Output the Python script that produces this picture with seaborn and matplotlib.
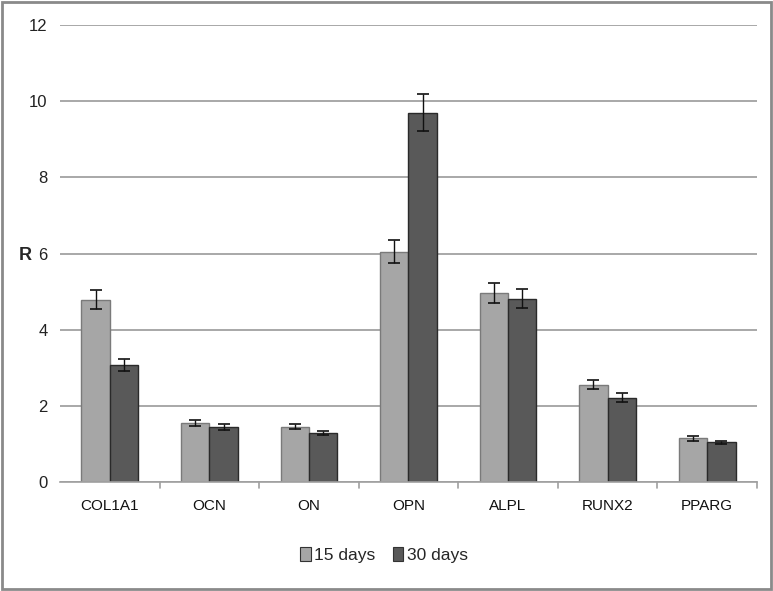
import matplotlib
matplotlib.use("Agg")
import matplotlib.pyplot as plt
import seaborn as sns
import pandas as pd
import numpy as np
from matplotlib.patches import Rectangle

genes = ["COL1A1", "OCN", "ON", "OPN", "ALPL", "RUNX2", "PPARG"]
groups = ["15 days", "30 days"]
r_15 = [4.78, 1.54, 1.45, 6.05, 4.96, 2.56, 1.15]
r_30 = [3.07, 1.45, 1.28, 9.70, 4.81, 2.21, 1.04]
err_15 = [0.25, 0.08, 0.07, 0.30, 0.26, 0.13, 0.06]
err_30 = [0.15, 0.08, 0.05, 0.48, 0.25, 0.12, 0.05]
y_ticks = [0, 2, 4, 6, 8, 10, 12]

colors = {"15 days": "#a6a6a6", "30 days": "#595959"}
edges = {"15 days": "#7a7a7a", "30 days": "#2a2a2a"}

df = pd.DataFrame({
    "gene": genes * 2,
    "group": [groups[0]] * len(genes) + [groups[1]] * len(genes),
    "R": r_15 + r_30,
    "err": err_15 + err_30,
})

sns.set_style("white")
plt.rcParams["font.family"] = ["Liberation Sans", "DejaVu Sans"]

fig = plt.figure(figsize=(7.73, 5.91), dpi=100)
ax = fig.add_axes([0.0776, 0.1844, 0.9017, 0.7733])

sns.barplot(data=df, x="gene", y="R", hue="group", order=genes, hue_order=groups,
            palette=colors, width=0.57, gap=0, errorbar=None, ax=ax,
            linewidth=1, saturation=1)

# edge colours and error bars per group
for cont, g in zip(ax.containers, groups):
    sub = df[df["group"] == g].set_index("gene").loc[genes]
    xs = []
    for bar in cont:
        bar.set_edgecolor(edges[g])
        xs.append(bar.get_x() + bar.get_width() / 2)
    ax.errorbar(xs, sub["R"].values, yerr=sub["err"].values, fmt="none",
                ecolor="#111111", elinewidth=1, capsize=4.5, capthick=1.2, zorder=5)

ax.set_ylim(0, 12)
ax.set_xlim(-0.5, len(genes) - 0.5)
ax.set_yticks(y_ticks)
ax.set_yticklabels([str(t) for t in y_ticks], fontsize=12, color="#222222")
ax.yaxis.grid(True, color="#9a9a9a", linewidth=1.2)
ax.set_axisbelow(True)
ax.tick_params(axis="y", length=0, pad=9)
ax.tick_params(axis="x", length=0, pad=12, labelsize=11, labelcolor="#111111")

# category separator ticks on the x axis
for b in np.arange(0.5, len(genes), 1.0):
    ax.plot([b, b], [0, -0.17], color="#a0a0a0", lw=1.2, clip_on=False)

for s in ["top", "right", "left"]:
    ax.spines[s].set_visible(False)
ax.spines["bottom"].set_color("#a0a0a0")
ax.spines["bottom"].set_linewidth(1.2)

ax.set_xlabel("")
ax.set_ylabel("")
fig.text(25 / 773, 1 - 255 / 591, "R", fontsize=13, fontweight="bold",
         ha="center", va="center")

leg = ax.legend(loc="center", bbox_to_anchor=(0.465, -0.16), ncol=2, frameon=False,
                fontsize=12.5, handlelength=0.6, handleheight=0.9, handletextpad=0.2,
                columnspacing=1.0)
for h, g in zip(leg.legend_handles, groups):
    h.set_edgecolor("#333333")
    h.set_linewidth(0.8)

fig.patches.append(Rectangle((0.002, 0.004), 0.996, 0.993, transform=fig.transFigure,
                             fill=False, edgecolor="#8a8a8a", linewidth=2))

fig.savefig("out.png", dpi=100)
